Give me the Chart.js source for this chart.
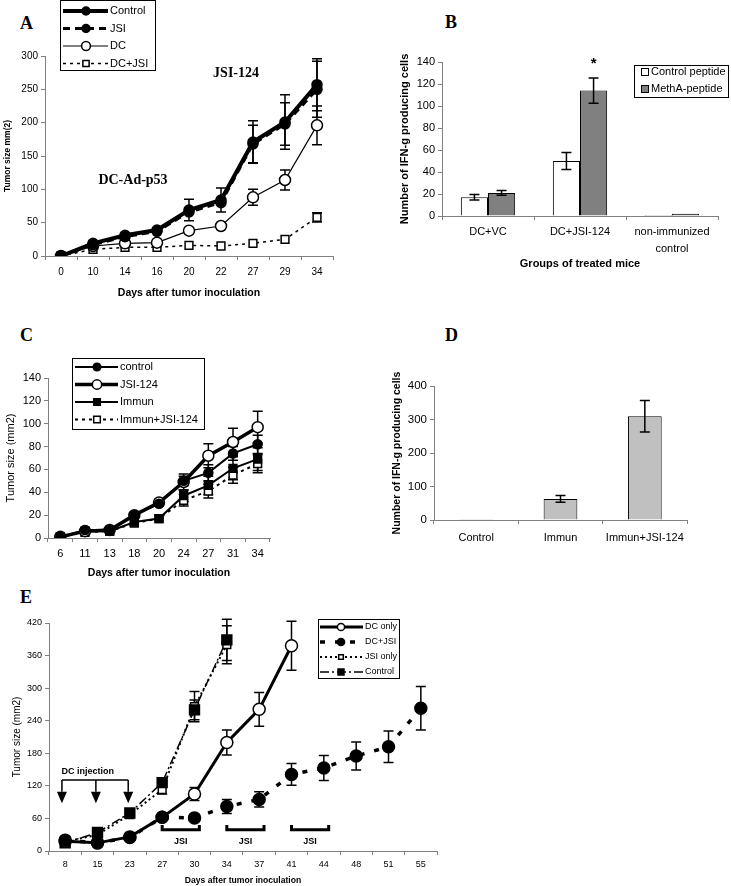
<!DOCTYPE html>
<html>
<head>
<meta charset="utf-8">
<script src="https://cdn.jsdelivr.net/npm/chart.js@4.4.0/dist/chart.umd.min.js"></script>
<style>
body{margin:0;background:#fff;width:731px;height:886px;position:relative;overflow:hidden}
canvas{position:absolute}
.lbl{position:absolute;font:bold 18px "Liberation Serif","Times New Roman",serif;line-height:18px;color:#000}
</style>
</head>
<body>
<div class="lbl" style="left:20px;top:14px">A</div>
<div class="lbl" style="left:445px;top:13px">B</div>
<div class="lbl" style="left:20px;top:326px">C</div>
<div class="lbl" style="left:445px;top:326px">D</div>
<div class="lbl" style="left:20px;top:588px">E</div>
<canvas id="ca" width="365" height="310" style="left:0;top:0"></canvas>
<canvas id="cb" width="366" height="310" style="left:365px;top:0"></canvas>
<canvas id="cc" width="365" height="270" style="left:0;top:310px"></canvas>
<canvas id="cd" width="366" height="270" style="left:365px;top:310px"></canvas>
<canvas id="ce" width="460" height="306" style="left:0;top:580px"></canvas>
<script>
// panel A
var daysA = ['0','10','14','16','20','22','27','29','34'];
var controlA = [0,19,31,39,69,84,171,201,257];
var controlAErr = [null,null,null,null,16,18,32,41,39];
var jsiA = [0,17,29,37,66,80,168,198,250];
var jsiAErr = [null,null,null,null,null,null,28,32,42];
var dcA = [0,15,19,20,38,45,88,114,196];
var dcAErr = [null,null,null,null,null,null,12,15,29];
var dcJsiA = [0,10,13,13,16,15,19,25,58];
var dcJsiAErr = [null,null,null,null,null,null,null,null,7];

// panel B
var groupsB = ['DC+VC','DC+JSI-124',['non-immunized','control']];
var controlPepB = [17,50,1];
var controlPepBErr = [2.5,7.7,null];
var methaPepB = [21,114,2];
var methaPepBErr = [2.2,11.4,null];

// panel C
var daysC = ['6','11','13','18','20','24','27','31','34'];
var controlC = [1,7,7,20,30,50,57,74,82];
var controlCErr = [null,null,null,null,null,4,7,6,8];
var jsiC = [1,6,7,20,31,49,72,84,97];
var jsiCErr = [null,null,null,null,3,7,10.5,12,14];
var immunC = [1,6,6,14,17,37,46,61,69];
var immunCErr = [null,null,null,null,null,5,8,10,10];
var immunJsiC = [1,5,6,13,17,33,41,55,65];
var immunJsiCErr = [null,null,null,null,null,5,6,7,8];

// panel D
var groupsD = ['Control','Immun','Immun+JSI-124'];
var ifnD = [2,63,310];
var ifnDErr = [null,10,47];

// panel E
var daysE = ['8','15','23','27','30','34','37','41','44','48','51','55'];
var dcOnlyE = [18,15,26,62,105,200,261,378,null,null,null,null];
var dcOnlyEErr = [null,null,null,null,12,23,31,45,null,null,null,null];
var dcJsiE = [20,15,25,62,61,82,95,141,153,175,192,263];
var dcJsiEErr = [null,null,null,null,null,13,14,20,23,26,29,40];
var jsiOnlyE = [17,30,67,113,266,380,null,null,null,null,null,null];
var jsiOnlyEErr = [null,null,null,8,28,35,null,null,null,null,null,null];
var controlE = [15,34,70,126,260,389,null,null,null,null,null,null];
var controlEErr = [null,null,null,null,18,38,null,null,null,null,null,null];
var injectIdx = [-0.1,0.95,1.95];
var jsiBlocks = [[3,4.15],[5,6.15],[7,8.15]];

var SANS = '"Liberation Sans", Arial, sans-serif';
var SERIF = '"Liberation Serif", "Times New Roman", serif';
var AXIS = '#808080';
Chart.defaults.font.family = SANS;
Chart.defaults.color = '#000';
Chart.defaults.animation = false;

function drawMarker(c, ds, x, y, k){
  var r = ds.pointRadius * (k || 1);
  c.save();
  c.setLineDash([]);
  c.fillStyle = ds.pointBackgroundColor;
  c.strokeStyle = '#000';
  c.lineWidth = ds.pointBorderWidth || 1;
  c.beginPath();
  if (ds.pointStyle === 'rect') { var s = r*Math.SQRT1_2; c.rect(x-s, y-s, 2*s, 2*s); }
  else c.arc(x, y, r, 0, Math.PI*2);
  c.fill(); c.stroke();
  c.restore();
}

var boxLegend = {
  id: 'boxLegend',
  afterDraw: function(ch, args, o){
    if (!o || !o.box) return;
    var c = ch.ctx, b = o.box;
    c.save();
    c.fillStyle = '#fff'; c.strokeStyle = '#000'; c.lineWidth = 1;
    c.fillRect(b[0], b[1], b[2], b[3]);
    c.strokeRect(b[0]+0.5, b[1]+0.5, b[2], b[3]);
    c.font = o.font; c.textBaseline = 'middle'; c.textAlign = 'left';
    ch.data.datasets.forEach(function(ds, i){
      var y = o.first + i*o.step;
      if (o.bars) {
        c.fillStyle = ds.backgroundColor; c.fillRect(o.x0, y-4, 8, 8);
        c.strokeStyle = '#000'; c.lineWidth = 1; c.strokeRect(o.x0+0.5, y-3.5, 7, 7);
      } else {
        c.strokeStyle = '#000'; c.lineWidth = ds.borderWidth;
        c.setLineDash(ds.borderDash || []);
        c.beginPath(); c.moveTo(o.x0, y); c.lineTo(o.x1, y); c.stroke();
        c.setLineDash([]);
        drawMarker(c, ds, o.mx, y, o.ms);
      }
      c.fillStyle = '#000';
      c.fillText(ds.label, o.tx, y);
    });
    c.restore();
  }
};

function drawErr(ch, o){
  var c = ch.ctx, ys = ch.scales.y, cap = o.cap || 5;
  ch.data.datasets.forEach(function(ds, i){
    if (!ds.errors) return;
    var meta = ch.getDatasetMeta(i);
    meta.data.forEach(function(el, j){
      var e = ds.errors[j], v = ds.data[j];
      if (e == null || v == null) return;
      var t = ys.getPixelForValue(v+e), b = ys.getPixelForValue(v-e);
      c.save();
      c.strokeStyle = '#000'; c.lineWidth = o.width || 1.5; c.setLineDash([]);
      c.beginPath();
      c.moveTo(el.x, t); c.lineTo(el.x, b);
      c.moveTo(el.x-cap, t); c.lineTo(el.x+cap, t);
      c.moveTo(el.x-cap, b); c.lineTo(el.x+cap, b);
      c.stroke();
      c.restore();
    });
  });
}
var errorBars = {
  id: 'errorBars',
  beforeDatasetsDraw: function(ch, a, o){ if (!o.after) drawErr(ch, o); },
  afterDatasetsDraw: function(ch, a, o){ if (o.after) drawErr(ch, o); }
};
Chart.register(boxLegend, errorBars);

function yAxis(max, step, title, titleFont, tickFont, width, titlePad){
  return {
    min: 0, max: max,
    ticks: { stepSize: step, font: tickFont, padding: 3 },
    grid: { drawOnChartArea: false, tickLength: 4, color: AXIS },
    border: { color: AXIS },
    title: { display: true, text: title, font: titleFont, padding: { top: titlePad || 0, bottom: 0 } },
    afterFit: function(s){ s.width = width; }
  };
}
function xAxis(title, titleFont, tickFont, height, tickPad){
  return {
    offset: true,
    ticks: { font: tickFont, padding: tickPad, autoSkip: false, maxRotation: 0 },
    grid: { offset: true, drawOnChartArea: false, tickLength: 4, color: AXIS },
    border: { color: AXIS },
    title: title ? { display: true, text: title, font: titleFont, padding: 0 } : { display: false },
    afterFit: function(s){ s.height = height; }
  };
}
function lineSet(label, data, errors, width, dash, style, radius, fill){
  return {
    label: label, data: data, errors: errors,
    borderColor: '#000', borderWidth: width, borderDash: dash,
    pointStyle: style, pointRadius: radius, pointBackgroundColor: fill,
    pointBorderColor: '#000', pointBorderWidth: 1.5, tension: 0, fill: false
  };
}
function baseOpts(pad, scales, plugins){
  plugins.legend = { display: false };
  plugins.tooltip = { enabled: false };
  return { responsive: false, devicePixelRatio: 1, animation: false, events: [],
    layout: { padding: pad }, scales: scales, plugins: plugins };
}

// ---- A
new Chart(document.getElementById('ca'), {
  type: 'line',
  data: { labels: daysA, datasets: [
    lineSet('Control', controlA, controlAErr, 4, [], 'circle', 5, '#000'),
    lineSet('JSI', jsiA, jsiAErr, 3, [7,5], 'circle', 5, '#000'),
    lineSet('DC', dcA, dcAErr, 1.2, [], 'circle', 5.5, '#fff'),
    lineSet('DC+JSI', dcJsiA, dcJsiAErr, 1.5, [3,4], 'rect', 5.5, '#fff')
  ]},
  options: baseOpts({left:0, top:56, right:32, bottom:11}, {
    x: xAxis('Days after tumor inoculation', {size:10.5, weight:'bold'}, {size:10}, 43, 6),
    y: yAxis(300, 50, 'Tumor size mm(2)', {size:8.5, weight:'bold'}, {size:10}, 45, 2.5)
  }, { boxLegend: { box:[60,0,95,70], first:11, step:17.5, x0:63, x1:108, mx:86, ms:0.8, tx:110, font:'11px '+SANS } }),
  plugins: [{ id:'notesA', afterDraw: function(ch){
    var c = ch.ctx, x = ch.scales.x, y = ch.scales.y;
    c.save(); c.fillStyle = '#000'; c.font = 'bold 14px '+SERIF;
    c.textAlign = 'center'; c.textBaseline = 'middle';
    c.fillText('JSI-124', x.getPixelForValue(5.47), y.getPixelForValue(274));
    c.fillText('DC-Ad-p53', x.getPixelForValue(2.25), y.getPixelForValue(114));
    c.restore();
  }}]
});

// ---- B
new Chart(document.getElementById('cb'), {
  type: 'bar',
  data: { labels: groupsB, datasets: [
    { label: 'Control peptide', data: controlPepB, errors: controlPepBErr, backgroundColor: '#fff', borderColor: '#000', borderWidth: 1, categoryPercentage: 0.59, barPercentage: 1 },
    { label: 'MethA-peptide', data: methaPepB, errors: methaPepBErr, backgroundColor: '#808080', borderColor: '#000', borderWidth: 1, categoryPercentage: 0.59, barPercentage: 1 }
  ]},
  options: baseOpts({left:33, top:62, right:13, bottom:39}, {
    x: xAxis('Groups of treated mice', {size:11, weight:'bold'}, {size:11, lineHeight:1.5}, 55, 4),
    y: yAxis(140, 20, 'Number of IFN-g producing cells', {size:11, weight:'bold'}, {size:11}, 44, 0)
  }, { errorBars: { after: true, cap: 5 },
       boxLegend: { box:[269,65,94,32], first:72, step:17, bars:true, x0:276, tx:286, font:'11px '+SANS } }),
  plugins: [{ id:'notesB', afterDatasetsDraw: function(ch){
    var c = ch.ctx, y = ch.scales.y, bar = ch.getDatasetMeta(1).data[1];
    c.save(); c.fillStyle = '#000'; c.font = 'bold 15px '+SANS;
    c.textAlign = 'center'; c.textBaseline = 'middle';
    c.fillText('*', bar.x, y.getPixelForValue(methaPepB[1] + methaPepBErr[1]) - 14);
    c.restore();
  }}]
});

// ---- C
new Chart(document.getElementById('cc'), {
  type: 'line',
  data: { labels: daysC, datasets: [
    lineSet('control', controlC, controlCErr, 2, [], 'circle', 4.5, '#000'),
    lineSet('JSI-124', jsiC, jsiCErr, 3.5, [], 'circle', 5.5, '#fff'),
    lineSet('Immun', immunC, immunCErr, 2, [], 'rect', 5.5, '#000'),
    lineSet('Immun+JSI-124', immunJsiC, immunJsiCErr, 2, [3,4], 'rect', 5.5, '#fff')
  ]},
  options: baseOpts({left:4, top:68, right:95, bottom:1}, {
    x: xAxis('Days after tumor inoculation', {size:10.5, weight:'bold'}, {size:11}, 41, 5),
    y: yAxis(140, 20, 'Tumor size (mm2)', {size:11}, {size:11}, 44, 0)
  }, { boxLegend: { box:[72,48,132,71], first:57, step:17.5, x0:75, x1:118, mx:97, ms:0.85, tx:120, font:'11px '+SANS } })
});

// ---- D
new Chart(document.getElementById('cd'), {
  type: 'bar',
  data: { labels: groupsD, datasets: [
    { label: 'IFN-g', data: ifnD, errors: ifnDErr, backgroundColor: '#c0c0c0', borderColor: '#000', borderWidth: 1, categoryPercentage: 0.4, barPercentage: 1 }
  ]},
  options: baseOpts({left:26, top:76, right:44, bottom:0}, {
    x: xAxis(null, null, {size:11}, 60, 7),
    y: yAxis(400, 50, 'Number of IFN-g producing cells', {size:10.5, weight:'bold'}, {size:11.5}, 43, 0)
  }, { errorBars: { after: true, cap: 5 } })
});

// ---- E
new Chart(document.getElementById('ce'), {
  type: 'line',
  data: { labels: daysE, datasets: [
    Object.assign(lineSet('DC only', dcOnlyE, dcOnlyEErr, 3, [], 'circle', 6, '#fff'), { order: 1 }),
    Object.assign(lineSet('DC+JSI', dcJsiE, dcJsiEErr, 3.5, [5,10], 'circle', 6, '#000'), { order: 0 }),
    Object.assign(lineSet('JSI only', jsiOnlyE, jsiOnlyEErr, 2, [2,3], 'rect', 5.5, '#fff'), { order: 2 }),
    Object.assign(lineSet('Control', controlE, controlEErr, 1.5, [9,3,2,3], 'rect', 7, '#000'), { order: 1 })
  ]},
  options: baseOpts({left:10, top:43, right:23, bottom:0}, {
    x: xAxis('Days after tumor inoculation', {size:8.6, weight:'bold'}, {size:9}, 35, 4),
    y: yAxis(420, 60, 'Tumor size (mm2)', {size:10}, {size:9}, 39, 1)
  }, { errorBars: { cap: 5 },
       boxLegend: { box:[318,39,81,59], first:47, step:15, x0:320, x1:363, mx:341, ms:0.6, tx:365, font:'9px '+SANS } }),
  plugins: [{ id:'notesE', afterDatasetsDraw: function(ch){
    var c = ch.ctx, x = ch.scales.x, y = ch.scales.y;
    c.save(); c.strokeStyle = '#000'; c.fillStyle = '#000'; c.lineWidth = 1.5; c.setLineDash([]);
    var top = y.getPixelForValue(131), mid = y.getPixelForValue(109), tip = y.getPixelForValue(88);
    var xs = injectIdx.map(function(i){ return x.getPixelForValue(i); });
    c.beginPath(); c.moveTo(xs[0], top); c.lineTo(xs[xs.length-1], top);
    xs.forEach(function(px){ c.moveTo(px, top); c.lineTo(px, mid); });
    c.stroke();
    xs.forEach(function(px){
      c.beginPath(); c.moveTo(px-5, mid); c.lineTo(px+5, mid); c.lineTo(px, tip); c.closePath(); c.fill();
    });
    c.font = 'bold 9px '+SANS; c.textAlign = 'center'; c.textBaseline = 'middle';
    c.fillText('DC injection', x.getPixelForValue(0.7), y.getPixelForValue(147));
    c.lineWidth = 3;
    jsiBlocks.forEach(function(b){
      var x0 = x.getPixelForValue(b[0]), x1 = x.getPixelForValue(b[1]);
      var yt = y.getPixelForValue(48), yb = y.getPixelForValue(39);
      c.beginPath(); c.moveTo(x0, yt); c.lineTo(x0, yb); c.lineTo(x1, yb); c.lineTo(x1, yt); c.stroke();
      c.fillText('JSI', (x0+x1)/2, y.getPixelForValue(17));
    });
    c.restore();
  }}]
});
</script>
</body>
</html>
